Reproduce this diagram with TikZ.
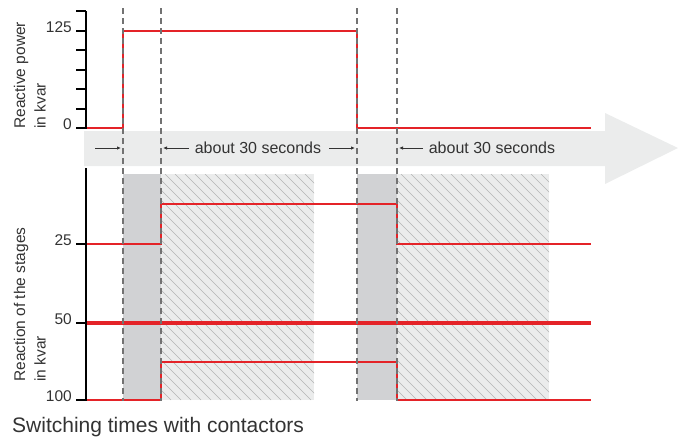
\documentclass[tikz,border=0pt]{standalone}
\usepackage{fontspec}
\setmainfont{Liberation Sans}
\usetikzlibrary{calc, positioning, arrows.meta}
\definecolor{sigred}{HTML}{E42328}
\definecolor{bandgray}{HTML}{EBECEC}
\definecolor{boxgray}{HTML}{D1D2D4}
\definecolor{dashgray}{HTML}{727272}
\definecolor{hatchgray}{HTML}{B4B4B4}
\definecolor{txtgray}{HTML}{333333}

\begin{document}
\begin{tikzpicture}[x = 1pt, y = -1pt,
  signal/.style = {draw = sigred, line width = 2.8pt},
  axis/.style = {draw = black, line width = 2.4pt},
  axtick/.style = {draw = black, line width = 2pt},
  guide/.style = {draw = dashgray, line width = 1.2pt, dash pattern = on 6pt off 4pt},
  hatch/.style = {draw = hatchgray, line width = .5pt},
  val/.style = {font = \fontsize{15.5}{18}\selectfont, text = txtgray, inner sep = 0, anchor = base east},
  span/.style = {font = \fontsize{16}{19}\selectfont, text = txtgray, inner sep = 0, anchor = base},
  ylab/.style = {font = \fontsize{15.5}{20.5}\selectfont, text = txtgray, align = left, rotate = 90, anchor = south west, inner sep = 0},
  dim/.style = {-{Latex[length = 4pt, width = 3.5pt]}, draw = txtgray, line width = .8pt}]
\useasboundingbox (0,0) rectangle (681,437);

\fill[bandgray] (84,131) -- (605,131) -- (605,113) -- (678,148) -- (605,184) -- (605,166) -- (84,166) -- cycle;

\fill[boxgray] (123,174) rectangle (161,400);
\fill[boxgray] (357,174) rectangle (397,400);
\foreach \xa/\xb in {161/314, 397/549} {
  \fill[bandgray] (\xa,174) rectangle (\xb,400);
  \begin{scope}
    \clip (\xa,174) rectangle (\xb,400);
    \foreach \k in {0,...,38}
      \draw[hatch] (\xa-226+\k*10,174) -- ++(226,226);
  \end{scope}
}

\draw[signal] (86,128) -- (123,128) -- (123,31) -- (357,31) -- (357,128) -- (591,128);
\draw[signal] (86,244) -- (161,244) -- (161,204) -- (397,204) -- (397,244) -- (591,244);
\draw[signal, line width = 3.8pt] (86,323) -- (591,323);
\draw[signal] (86,400) -- (161,400) -- (161,362) -- (397,362) -- (397,400) -- (591,400);

\foreach \x/\n in {123/ta, 161/tb, 357/tc, 397/td} {
  \coordinate (\n) at (\x,8);
  \coordinate (\n e) at (\x,401);
  \draw[guide] (\n) -- (\n e);
}

\draw[axis] (86,11) -- (86,129);
\foreach \y in {11,31,50,70,89,109,128}
  \draw[axtick] (76,\y) -- (86,\y);
\draw[axis] (86,168) -- (86,401);
\foreach \y in {244,323,400}
  \draw[axtick] (76,\y) -- (86,\y);

\node[val] (v125) at (72,32) {125};
\node[val] (v0) at (72,129) {0};
\node[val] (v25) at (72,245) {25};
\node[val] (v50) at (72,324) {50};
\node[val] (v100) at (72,401) {100};

\node[ylab] (pwr) at (46,129) {Reactive power\\in kvar};
\node[ylab] (stg) at (46,382) {Reaction of the stages\\in kvar};

\node[span] (wait1) at (258,153) {about 30 seconds};
\node[span] (wait2) at (492,153) {about 30 seconds};
\coordinate (d0) at (95,148);
\coordinate (d1) at (121,148);
\coordinate (d2) at (189,148);
\coordinate (d3) at (163,148);
\coordinate (d4) at (329,148);
\coordinate (d5) at (355,148);
\coordinate (d6) at (423,148);
\coordinate (d7) at (399,148);
\draw[dim] (d0) -- (d1);
\draw[dim] (d2) -- (d3);
\draw[dim] (d4) -- (d5);
\draw[dim] (d6) -- (d7);

\node[anchor = base west, inner sep = 0, text = txtgray, font = \fontsize{21}{25}\selectfont] (cap) at (12,432) {Switching times with contactors};
\end{tikzpicture}
\end{document}
